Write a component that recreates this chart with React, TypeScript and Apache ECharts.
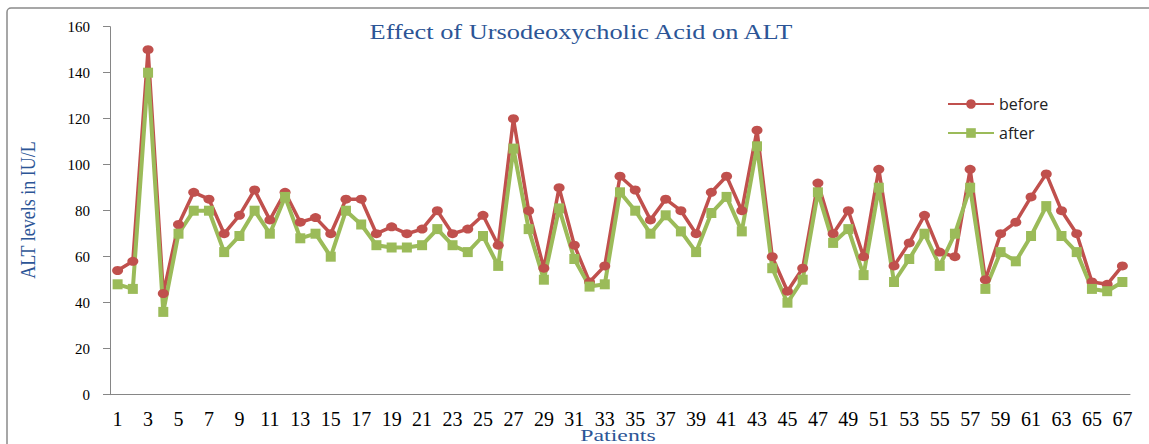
import React, { useEffect, useRef } from "react";
import * as echarts from "echarts";

const patients: string[] = Array.from({ length: 67 }, (_, i) => String(i + 1));

const before: number[] = [
  54, 58, 150, 44, 74, 88, 85, 70, 78, 89, 76, 88, 75, 77, 70, 85, 85, 70, 73, 70,
  72, 80, 70, 72, 78, 65, 120, 80, 55, 90, 65, 49, 56, 95, 89, 76, 85, 80, 70, 88,
  95, 80, 115, 60, 45, 55, 92, 70, 80, 60, 98, 56, 66, 78, 62, 60, 98, 50, 70, 75,
  86, 96, 80, 70, 49, 48, 56,
];

const after: number[] = [
  48, 46, 140, 36, 70, 80, 80, 62, 69, 80, 70, 86, 68, 70, 60, 80, 74, 65, 64, 64,
  65, 72, 65, 62, 69, 56, 107, 72, 50, 81, 59, 47, 48, 88, 80, 70, 78, 71, 62, 79,
  86, 71, 108, 55, 40, 50, 88, 66, 72, 52, 90, 49, 59, 70, 56, 70, 90, 46, 62, 58,
  69, 82, 69, 62, 46, 45, 49,
];

const yTicks = { min: 0, max: 160, interval: 20 };

const TITLE = "Effect of Ursodeoxycholic Acid on ALT";
const Y_NAME = "ALT levels in IU/L";
const X_NAME = "Patients";

export default function App() {
  const ref = useRef<HTMLDivElement>(null);

  useEffect(() => {
    if (!ref.current) return;
    const chart = echarts.init(ref.current, null, { renderer: "svg" });
    const serif = "'Liberation Serif', 'DejaVu Serif', serif";
    const blue = "#2C5596";
    chart.setOption({
      animation: false,
      backgroundColor: "#ffffff",
      graphic: [
        {
          type: "rect",
          shape: { x: 7, y: 8, width: 1300, height: 600, r: 4 },
          style: { fill: "none", stroke: "#8a8a8a", lineWidth: 1.5 },
          silent: true,
        },
        {
          type: "text",
          x: 581,
          y: 32,
          scaleX: 1.32,
          style: {
            text: TITLE,
            font: `20px ${serif}`,
            fill: blue,
            textAlign: "center",
            textVerticalAlign: "middle",
          },
        },
        {
          type: "text",
          x: 27,
          y: 210,
          rotation: Math.PI / 2,
          scaleX: 0.82,
          style: {
            text: Y_NAME,
            font: `22px ${serif}`,
            fill: blue,
            textAlign: "center",
            textVerticalAlign: "middle",
          },
        },
        {
          type: "text",
          x: 618,
          y: 435.5,
          scaleX: 1.4,
          style: {
            text: X_NAME,
            font: `17px ${serif}`,
            fill: blue,
            textAlign: "center",
            textVerticalAlign: "middle",
          },
        },
      ],
      legend: {
        orient: "vertical",
        left: 942,
        top: 91,
        itemWidth: 46,
        itemHeight: 12,
        itemGap: 13,
        textStyle: {
          fontFamily: "'Open Sans', 'Liberation Sans', sans-serif",
          fontSize: 16,
          lineHeight: 16,
          color: "#222",
        },
        data: ["before", "after"],
      },
      grid: { left: 110, right: 19, top: 26.7, bottom: 49.3, containLabel: false },
      xAxis: {
        type: "category",
        data: patients,
        boundaryGap: true,
        axisLine: { lineStyle: { color: "#868686", width: 1 } },
        axisTick: { length: 5, lineStyle: { color: "#868686" }, interval: 0 },
        axisLabel: {
          interval: 1,
          fontFamily: serif,
          fontSize: 20,
          lineHeight: 16,
          color: "#000",
          margin: 16,
        },
      },
      yAxis: {
        type: "value",
        min: yTicks.min,
        max: yTicks.max,
        interval: yTicks.interval,
        splitLine: { show: false },
        axisLine: { show: true, lineStyle: { color: "#868686", width: 1 } },
        axisTick: { show: true, length: 7, lineStyle: { color: "#868686" } },
        axisLabel: { fontFamily: serif, fontSize: 15, color: "#000", margin: 20 },
      },
      series: [
        {
          name: "before",
          type: "line",
          data: before,
          symbol: "circle",
          symbolSize: [11, 9],
          lineStyle: { color: "#C0504D", width: 3.5 },
          itemStyle: { color: "#C0504D" },
        },
        {
          name: "after",
          type: "line",
          data: after,
          symbol: "rect",
          symbolSize: 10,
          lineStyle: { color: "#9BBB59", width: 4 },
          itemStyle: { color: "#9BBB59" },
        },
      ],
    });
    return () => chart.dispose();
  }, []);

  return (
    <div
      ref={ref}
      style={{ position: "fixed", left: 0, top: 0, width: 1149, height: 444 }}
    />
  );
}
